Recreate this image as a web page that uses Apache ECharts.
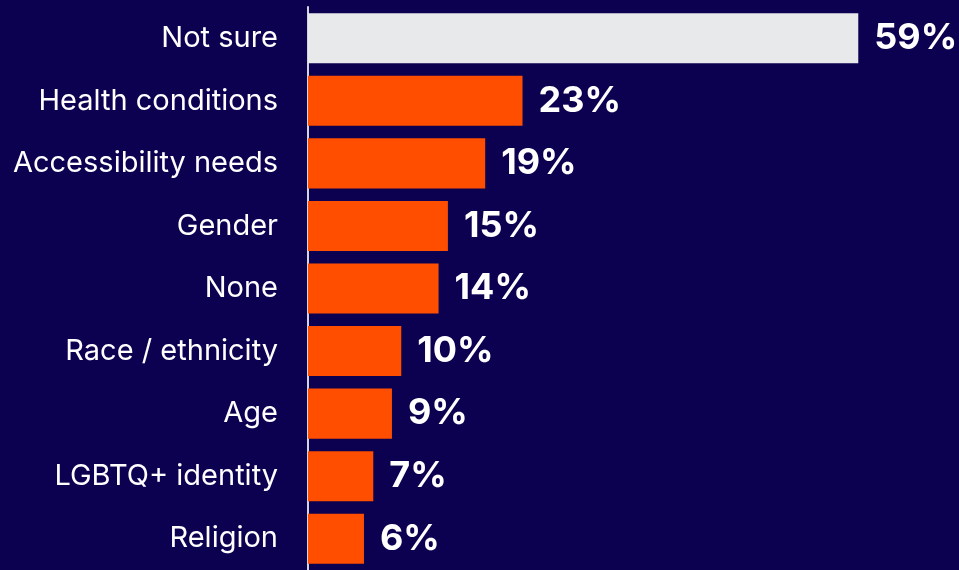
<!DOCTYPE html>
<html>
<head>
<meta charset="utf-8">
<script src="https://cdn.jsdelivr.net/npm/echarts@6/dist/echarts.min.js"></script>
<style>
  html, body { margin: 0; padding: 0; background: #0c0050; }
  #chart { width: 959px; height: 570px; }
</style>
</head>
<body>
<div id="chart"></div>
<script>
// Responses by category, top to bottom
const categories = [
  'Not sure', 'Health conditions', 'Accessibility needs', 'Gender', 'None',
  'Race / ethnicity', 'Age', 'LGBTQ+ identity', 'Religion'
];
const values = [59, 23, 19, 15, 14, 10, 9, 7, 6];
// The "Not sure" bar is shown in a neutral tone
const neutralCategory = 'Not sure';

const chart = echarts.init(document.getElementById('chart'));
chart.setOption({
  backgroundColor: '#0c0050',
  animation: false,
  grid: { left: 308, right: 0, top: 7, height: 567, containLabel: false },
  xAxis: {
    type: 'value', min: 0, max: 69.8,
    show: false
  },
  yAxis: {
    type: 'category',
    data: categories,
    inverse: true,
    axisLine: { show: true, lineStyle: { color: '#d4d4dc', width: 2 } },
    axisTick: { show: false },
    axisLabel: {
      color: '#ffffff', fontFamily: 'Inter', fontSize: 29, margin: 30
    }
  },
  series: [{
    type: 'bar',
    data: values.map((v, i) => ({
      value: v,
      itemStyle: { color: categories[i] === neutralCategory ? '#e8e9eb' : '#ff4e00' }
    })),
    barCategoryGap: '20%',
    label: {
      show: true, position: 'right', distance: 16,
      formatter: '{c}%',
      color: '#ffffff', fontFamily: 'Inter', fontWeight: 'bold', fontSize: 36
    }
  }]
});
</script>
</body>
</html>
